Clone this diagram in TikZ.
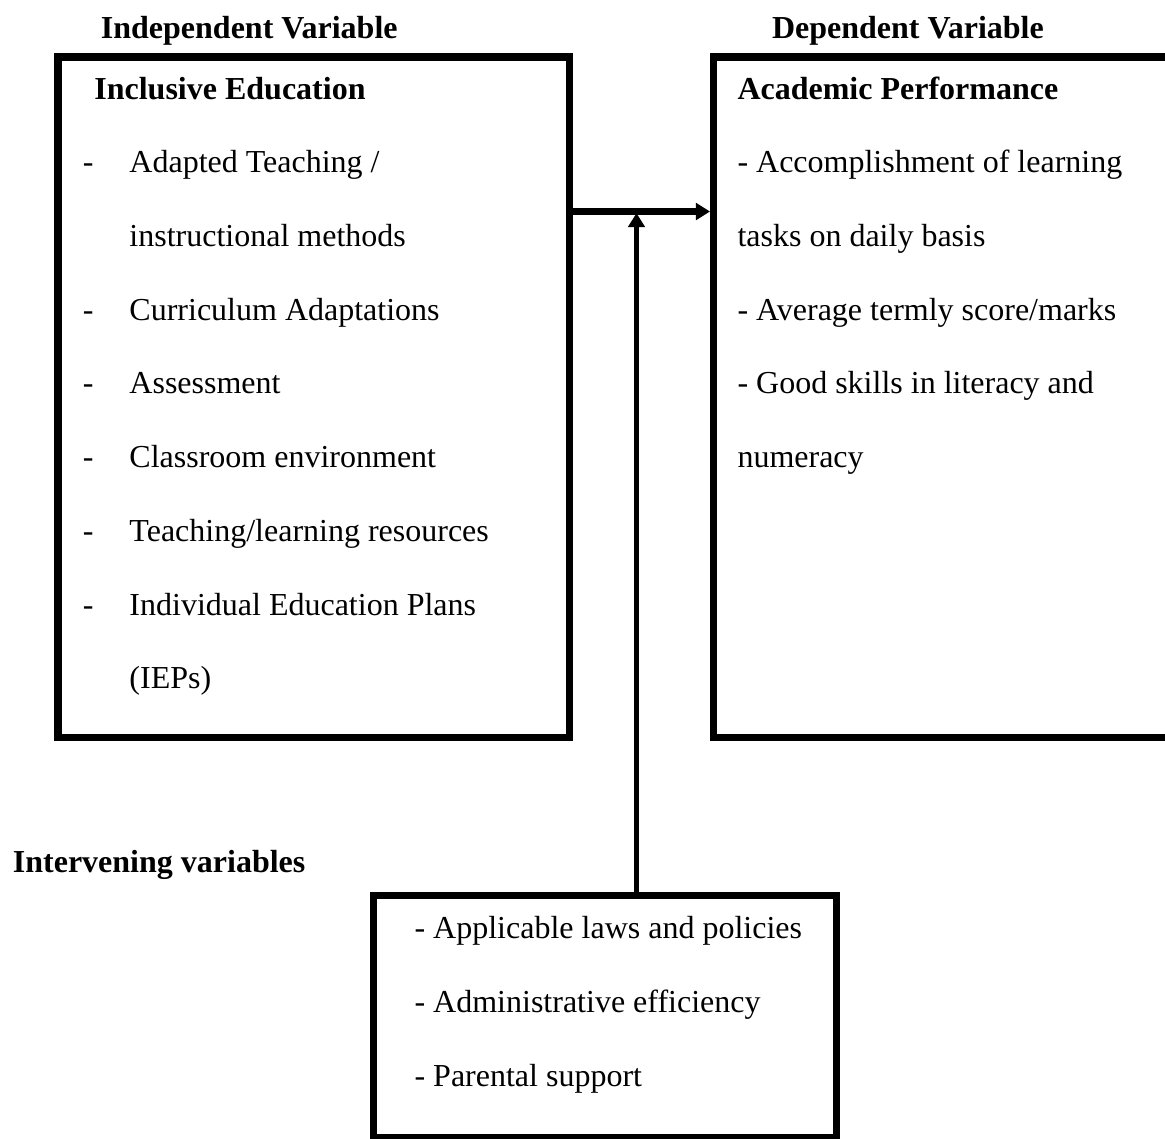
\documentclass[tikz,border=0pt]{standalone}
\usepackage{fontspec}
\setmainfont{Liberation Serif}
\usetikzlibrary{arrows.meta}

\newcommand{\dashitem}[1]{\hspace*{9.3pt}\makebox[17.5pt][l]{-}#1}

\begin{document}
\begin{tikzpicture}[x=0.375pt,y=-0.375pt,->,>={Triangle[length=5.3pt,width=6.2pt]},shorten >=1.3pt,main node/.style={rectangle,draw,line width=2.9pt,inner sep=0pt,outer sep=0pt,anchor=north west,font=\fontsize{12}{27.64}\selectfont},title node/.style={inner sep=0pt,anchor=base west,font=\fontsize{12}{14}\selectfont\bfseries}]

\useasboundingbox (0,0) rectangle (1165,1138);

\node[main node] (1) at (58,57) {\begin{minipage}[t][255.2pt][t]{191.8pt}\rule{0pt}{15.8pt}\hspace*{13.65pt}\textbf{Inclusive Education}\\
\dashitem{Adapted Teaching /}\\
\hspace*{26.8pt}instructional methods\\
\dashitem{Curriculum Adaptations}\\
\dashitem{Assessment}\\
\dashitem{Classroom environment}\\
\dashitem{Teaching/learning resources}\\
\dashitem{Individual Education Plans}\\
\hspace*{26.8pt}(IEPs)\end{minipage}};
\node[title node] (2) at (100.4,38) {Independent Variable};

\node[main node] (3) at (713.5,57) {\begin{minipage}[t][255.2pt][t]{182.4pt}\rule{0pt}{15.8pt}\hspace*{9pt}\textbf{Academic Performance}\\
\hspace*{9pt}- Accomplishment of learning\\
\hspace*{9pt}tasks on daily basis\\
\hspace*{9pt}- Average termly score/marks\\
\hspace*{9pt}- Good skills in literacy and\\
\hspace*{9pt}numeracy\end{minipage}};
\node[title node] (4) at (771.5,38) {Dependent Variable};

\node[main node] (5) at (373.5,895.5) {\begin{minipage}[t][90.75pt][t]{173.6pt}\rule{0pt}{16.3pt}\hspace*{15.4pt}- Applicable laws and policies\\
\hspace*{15.4pt}- Administrative efficiency\\
\hspace*{15.4pt}- Parental support\end{minipage}};
\node[title node] (6) at (12.4,872) {Intervening variables};

%arrows
\coordinate (7) at (636.5,211.5);
\draw[line width=2.4pt] (1.east |- 7) -- (3.west |- 7);
\draw[line width=2pt,shorten >=0.6pt] (5.north -| 7) -- (7);

\end{tikzpicture}
\end{document}
